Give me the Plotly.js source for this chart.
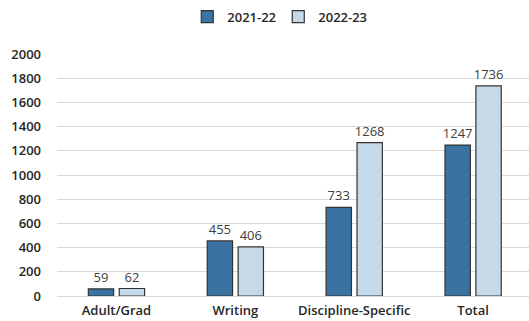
<!DOCTYPE html>
<html><head><meta charset="utf-8">
<script src="https://cdn.plot.ly/plotly-3.0.1.min.js"></script>
<style>html,body{margin:0;padding:0;background:#fff}#chart{width:529px;height:321px}</style>
</head><body><div id="chart"></div>
<script>
const categories = ["Adult/Grad", "Writing", "Discipline-Specific", "Total"];
const series1Name = "2021-22";
const series1 = [59, 455, 733, 1247];
const series2Name = "2022-23";
const series2 = [62, 406, 1268, 1736];
const yTicks = [0, 200, 400, 600, 800, 1000, 1200, 1400, 1600, 1800, 2000];

const fam = "'Open Sans', Lato, sans-serif";
const labelFont = {family: fam, size: 13, color: "#404040"};
const traces = [
  {type: "bar", name: series1Name, x: categories, y: series1, text: series1.map(String),
   textposition: "outside", cliponaxis: false, textfont: labelFont,
   marker: {color: "#3a73a1", line: {color: "#333", width: 1.2}}},
  {type: "bar", name: series2Name, x: categories, y: series2, text: series2.map(String),
   textposition: "outside", cliponaxis: false, textfont: labelFont,
   marker: {color: "#c5d9e8", line: {color: "#333", width: 1.2}}}
];
const layout = {
  width: 529, height: 321,
  margin: {l: 57, r: 0, t: 54, b: 25},
  paper_bgcolor: "#fff", plot_bgcolor: "#fff",
  font: {family: fam, size: 12, color: "#262626"},
  barmode: "group", bargap: 0.48, bargroupgap: 0.18,
  uniformtext: {minsize: 13, mode: "show"},
  showlegend: true,
  legend: {orientation: "h", x: 146 / 529, xanchor: "left", y: 0.995, yanchor: "top",
           yref: "container", font: {family: fam, size: 13, color: "#262626", weight: 600},
           itemwidth: 30, entrywidth: 46, entrywidthmode: "pixels", traceorder: "normal"},
  xaxis: {type: "category", range: [-0.5, 3.47], showgrid: false, zeroline: false, showline: false,
          ticks: "", ticklabelstandoff: 5,
          tickfont: {family: fam, size: 13, color: "#262626", weight: 600}, automargin: false},
  yaxis: {range: [0, 2000], tickvals: yTicks, showgrid: true, gridcolor: "#d9d9d9", gridwidth: 1,
          zeroline: true, zerolinecolor: "#d9d9d9", zerolinewidth: 1, showline: false, ticks: "",
          ticklabelstandoff: 15, tickfont: {family: fam, size: 13, color: "#262626", weight: 600},
          automargin: false}
};
Plotly.newPlot("chart", traces, layout, {displayModeBar: false, staticPlot: true});
</script></body></html>
